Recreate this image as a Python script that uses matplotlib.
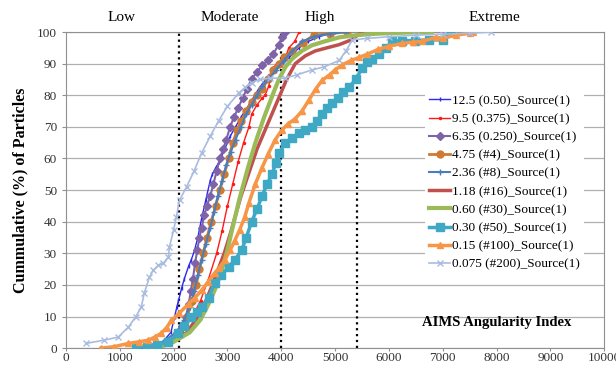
import matplotlib
matplotlib.use("Agg")
import matplotlib.pyplot as plt

plt.rcParams["font.family"] = ["Liberation Serif", "DejaVu Serif"]

# series (AIMS angularity index, cumulative %)
labels = [
    "12.5 (0.50)_Source(1)",
    "9.5 (0.375)_Source(1)",
    "6.35 (0.250)_Source(1)",
    "4.75 (#4)_Source(1)",
    "2.36 (#8)_Source(1)",
    "1.18 (#16)_Source(1)",
    "0.60 (#30)_Source(1)",
    "0.30 (#50)_Source(1)",
    "0.15 (#100)_Source(1)",
    "0.075 (#200)_Source(1)",
]

x_125 = [1300, 1600, 1800, 1950, 2020, 2060, 2090, 2150, 2200, 2280, 2330, 2390, 2450, 2520,
         2600, 2680, 2720, 2780, 2850, 2950, 3050, 3150, 3250, 3400, 3580, 3750, 3900, 4010,
         4150, 4330, 4500, 4700, 4900, 5000]
y_125 = [0, 1, 2, 5, 10, 13, 15, 19, 22, 26, 28, 31, 35, 41, 47, 53, 55, 57, 59, 63, 67, 70,
         73, 77, 82, 86, 88, 89.5, 92, 95, 97, 98.5, 99.5, 100]

x_95 = [1500, 1900, 2150, 2350, 2500, 2650, 2800, 2900, 3000, 3100, 3200, 3300, 3400, 3450,
        3550, 3640, 3700, 3770, 3800, 3830, 3900, 4010, 4100, 4140, 4250, 4330]
y_95 = [0, 2, 5, 10, 15, 22, 30, 37, 45, 52, 59, 65, 70, 74, 77, 79, 80, 83, 86, 88.5, 89.5,
        91, 93, 95, 97, 100]

x_635 = [1500, 1700, 1900, 2050, 2150, 2230, 2280, 2320, 2360, 2400, 2440, 2480, 2520, 2570,
         2620, 2680, 2740, 2800, 2860, 2920, 2980, 3050, 3120, 3200, 3280, 3360, 3450, 3550,
         3650, 3750, 3850, 3950, 4020, 4070]
y_635 = [0, 1, 2, 4, 7, 10, 14, 18, 22, 27, 31, 35, 38, 42, 45, 48, 52, 56, 60, 63, 66, 70,
         73, 76, 79, 82, 85, 87.5, 89.5, 91, 93, 96, 98.5, 100]

x_475 = [1600, 1900, 2100, 2250, 2350, 2420, 2480, 2550, 2620, 2700, 2780, 2860, 2940, 3020,
         3100, 3180, 3260, 3350, 3450, 3550, 3650, 3750, 3850, 3950, 4050, 4200, 4400, 4600,
         4900, 5220]
y_475 = [0, 2, 5, 10, 15, 20, 25, 30, 35, 40, 45, 50, 55, 60, 65, 69, 72, 75, 78, 80, 82, 85,
         88, 90, 92, 94, 96.5, 99, 99.5, 100]

x_236 = [1400, 1800, 2050, 2200, 2300, 2380, 2450, 2520, 2600, 2680, 2750, 2820, 2900, 2980,
         3060, 3150, 3250, 3350, 3450, 3550, 3650, 3770, 3900, 4050, 4200, 4385, 4600, 4900,
         5200]
y_236 = [0, 2, 5, 9, 13, 18, 23, 28, 33, 38, 43, 48, 53, 58, 62, 66, 70, 74, 77, 80, 83, 85,
         88, 91, 94, 97, 98.5, 99.5, 100]

x_118 = [1700, 2000, 2250, 2450, 2600, 2720, 2830, 2940, 3050, 3150, 3250, 3350, 3450, 3550,
         3650, 3750, 3850, 3950, 4100, 4260, 4450, 4630, 4850, 5075, 5300, 5500]
y_118 = [0, 2, 5, 10, 15, 20, 25, 30, 36, 42, 48, 53, 58, 63, 67, 71, 75, 79, 85, 90, 92.5,
         94, 95, 96, 97.5, 100]

x_060 = [1700, 2000, 2300, 2500, 2650, 2780, 2900, 3000, 3080, 3150, 3220, 3300, 3380, 3450,
         3520, 3600, 3680, 3770, 3860, 3955, 4080, 4200, 4380, 4570, 4800, 5075, 5400, 5800,
         6300, 6800]
y_060 = [0, 2, 5, 9, 14, 19, 25, 31, 37, 42, 47, 52, 57, 61, 65, 69, 73, 77, 81, 85, 89, 91.5,
         94, 95.8, 97, 98.3, 99, 99.5, 99.8, 100]

x_030 = [1300, 1500, 1700, 1900, 2090, 2200, 2330, 2430, 2520, 2650, 2760, 2880, 3020, 3140,
         3265, 3350, 3450, 3550, 3640, 3740, 3825, 3900, 3955, 4070, 4200, 4330, 4450, 4570,
         4660, 4760, 4850, 4945, 5050, 5150, 5260, 5380, 5500, 5600, 5690, 5820, 5950, 6065,
         6250, 6490, 6750, 7000, 7130]
y_030 = [0, 0.5, 1, 2, 4.7, 7, 9.8, 11.5, 13, 16, 20.5, 23, 25.6, 28, 31, 35, 40, 44, 48, 52,
         55, 58.5, 61.6, 64.8, 66.5, 68, 69, 70, 72, 74, 76, 77.4, 79, 81, 82.5, 85, 88.5, 90.5,
         91.6, 93, 95, 97, 97.3, 97.3, 97.5, 97.5, 100]

x_015 = [650, 900, 1160, 1350, 1530, 1650, 1770, 1870, 1960, 2100, 2280, 2400, 2520, 2640,
         2760, 2850, 2950, 3050, 3135, 3230, 3320, 3400, 3520, 3640, 3760, 3880, 4010, 4130,
         4255, 4385, 4515, 4640, 4760, 4900, 5000, 5130, 5300, 5450, 5600, 5800, 6000, 6250,
         6450, 6620, 6870, 7000, 7250, 7500, 7560]
y_015 = [0, 0.5, 1.5, 2, 2.5, 3.5, 4.7, 6.5, 8.8, 11, 14, 16, 18.3, 21, 23.7, 25.5, 27.8, 31,
         34, 37.5, 41.4, 46, 52, 57, 61.5, 65.7, 69, 71, 72.5, 75, 78.5, 82, 84.7, 86.5, 88,
         89.6, 91, 92, 93, 94.5, 95.5, 96.4, 96.8, 97, 98.3, 98, 99, 99.6, 100]

x_0075 = [370, 700, 970, 1157, 1300, 1400, 1455, 1550, 1623, 1717, 1810, 1903, 1922, 2000,
          2050, 2110, 2240, 2380, 2520, 2680, 2840, 3000, 3210, 3330, 3450, 3600, 3800, 4070,
          4300, 4570, 4800, 5075, 5200, 5320, 5600, 6000, 6500, 7000, 7500, 7900]
y_0075 = [1.5, 2.5, 3.5, 6.6, 10, 13, 17.4, 22.4, 24.7, 26.2, 26.9, 28.8, 32, 37.3, 41.4, 46.8,
          51, 56, 61.7, 67, 72, 76.5, 80.7, 82.5, 84, 85, 85.4, 85.4, 86.5, 88, 89, 91, 94,
          97.5, 98, 98.5, 99, 99.3, 99.6, 100]

xs = [x_125, x_95, x_635, x_475, x_236, x_118, x_060, x_030, x_015, x_0075]
ys = [y_125, y_95, y_635, y_475, y_236, y_118, y_060, y_030, y_015, y_0075]

colors = ["#2a2af0", "#ff1a1a", "#7f63a8", "#cf7a32", "#4a7ebb",
          "#c0504d", "#9bbb59", "#3fa9c5", "#f79646", "#a9bce0"]
markers = ["|", ".", "D", "o", "+", None, None, "s", "^", "x"]
msizes = [3, 3, 4, 5, 4, 0, 0, 5.5, 5, 4]
lwidths = [1.0, 1.0, 1.5, 2.0, 1.5, 2.5, 3.0, 2.5, 2.5, 1.2]

# class boundaries for the angularity index
bounds = [2100, 4000, 5400]
classes = ["Low", "Moderate", "High", "Extreme"]
class_x = [1030, 3050, 4720, 7950]

fig, ax = plt.subplots(figsize=(6.16, 3.70), dpi=100)
fig.subplots_adjust(left=0.107, right=0.981, bottom=0.059, top=0.9135)

ax.set_xlim(0, 10000)
ax.set_ylim(0, 100)
ax.set_xticks(range(0, 10001, 1000))
ax.set_yticks(range(0, 101, 10))
ax.yaxis.grid(True, color="#b0b0b0", linewidth=0.9)
ax.set_axisbelow(True)
for sp in ax.spines.values():
    sp.set_color("#909090")
ax.tick_params(labelsize=9.5, colors="#333333", length=3, color="#909090")
ax.tick_params(axis="x", length=2, pad=0.5)

for b in bounds:
    ax.axvline(b, color="black", linestyle=":", linewidth=1.6, zorder=1)

for x, y, c, m, ms, lw, lab in zip(xs, ys, colors, markers, msizes, lwidths, labels):
    ax.plot(x, y, color=c, marker=m, markersize=ms, linewidth=lw, label=lab,
            markeredgecolor=c, markeredgewidth=1.0, zorder=3)

for name, cx in zip(classes, class_x):
    ax.text(cx, 104.6, name, ha="center", va="center", fontsize=11, clip_on=False)

ax.text(8000, 8, "AIMS Angularity Index", ha="center", va="center",
        fontsize=10.5, fontweight="bold")

ax.set_ylabel("Cummulative (%) of Particles", fontsize=11.5, fontweight="bold", labelpad=6)

leg = ax.legend(loc="upper left", bbox_to_anchor=(0.655, 0.835), fontsize=9.5,
                frameon=True, framealpha=1, edgecolor="none", fancybox=False,
                handlelength=1.6, handletextpad=0.15, labelspacing=0.45, borderpad=0.3)

fig.savefig("out.png", dpi=100)
